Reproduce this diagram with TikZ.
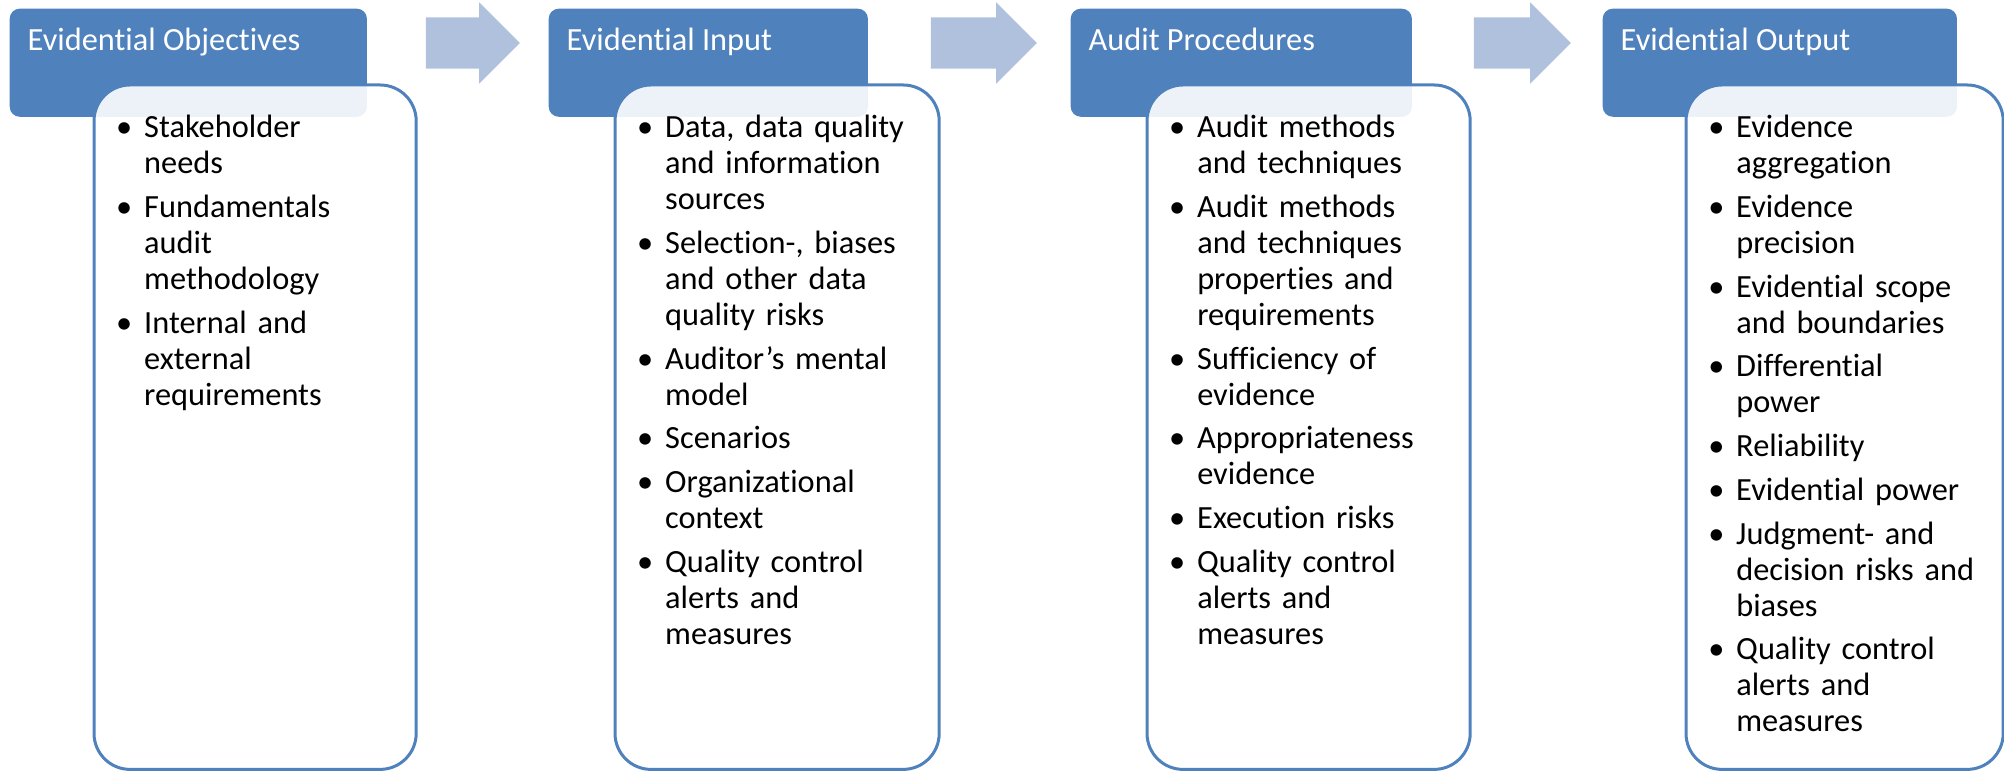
\documentclass[tikz,border=0pt]{standalone}
\usepackage{fontspec}
\setmainfont{Carlito}[Ligatures=CommonOff]
\usepackage{tikz}
\usetikzlibrary{shapes,arrows}
\usetikzlibrary{positioning}
\definecolor{headblue}{RGB}{79,129,189}
\definecolor{arrowblue}{RGB}{176,193,221}
\tikzstyle{every node}=[font=\fontsize{9.2pt}{10.24pt}\selectfont]
\tikzstyle{head}=[fill=headblue,rounded corners=0.1cm,anchor=north west,inner sep=0pt,minimum height=1.08cm]
\tikzstyle{body}=[draw=headblue,line width=0.03cm,fill=white,fill opacity=0.9,rounded corners=0.36cm,anchor=north west,inner sep=0pt,minimum height=6.84cm]
\tikzstyle{flow}=[single arrow,fill=arrowblue,text height=0.5cm,text depth=0pt,minimum width=0.8cm,single arrow head extend=0.15cm,inner sep=0pt]
\tikzstyle{title}=[anchor=base west,text=white,inner sep=0pt,xshift=0.18cm,yshift=-0.42cm]
\tikzstyle{list}=[anchor=north west,text width=2.9cm,align=left,inner sep=0pt,xshift=0.30cm,yshift=-0.31cm]
\newcommand{\bitem}[1]{\hangindent=0.21cm\hangafter=1\noindent\makebox[0.21cm][l]{\kern-0.07cm\textbullet}#1\par\vspace{2.2pt}}

\begin{document}
\begin{tikzpicture}[x=0.01cm,y=-0.01cm]
\useasboundingbox (0,0) rectangle (2004,771);

\node[flow,minimum height=0.94cm] (a1) at (460,43) {};
\node[flow,minimum height=1.06cm] (a2) at (971,43) {};
\node[flow,minimum height=0.97cm] (a3) at (1509.5,43) {};

\node[head,minimum width=3.57cm] (h1) at (9,8) {};
\node[head,minimum width=3.19cm] (h2) at (548,8) {};
\node[head,minimum width=3.41cm] (h3) at (1070,8) {};
\node[head,minimum width=3.54cm] (h4) at (1602,8) {};
\node[title] (t1) at (h1.north west) {Evidential Objectives};
\node[title] (t2) at (h2.north west) {Evidential Input};
\node[title] (t3) at (h3.north west) {Audit Procedures};
\node[title] (t4) at (h4.north west) {Evidential Output};

\node[body,minimum width=3.22cm] (b1) at (92.5,83.5) {};
\node[body,minimum width=3.24cm] (b2) at (613.5,83.5) {};
\node[body,minimum width=3.23cm] (b3) at (1145.5,83.5) {};
\node[body,minimum width=3.17cm] (b4) at (1684.5,83.5) {};

\node[list] (l1) at (b1.north west) {%
\bitem{Stakeholder\newline needs}
\bitem{Fundamentals\newline audit\newline methodology}
\bitem{Internal and\newline external\newline requirements}};
\node[list] (l2) at (b2.north west) {%
\bitem{Data, data quality\newline and information\newline sources}
\bitem{Selection-, biases\newline and other data\newline quality risks}
\bitem{Auditor’s mental\newline model}
\bitem{Scenarios}
\bitem{Organizational\newline context}
\bitem{Quality control\newline alerts and\newline measures}};
\node[list] (l3) at (b3.north west) {%
\bitem{Audit methods\newline and techniques}
\bitem{Audit methods\newline and techniques\newline properties and\newline requirements}
\bitem{Sufficiency of\newline evidence}
\bitem{Appropriateness\newline evidence}
\bitem{Execution risks}
\bitem{Quality control\newline alerts and\newline measures}};
\node[list] (l4) at (b4.north west) {%
\bitem{Evidence\newline aggregation}
\bitem{Evidence\newline precision}
\bitem{Evidential scope\newline and boundaries}
\bitem{Differential\newline power}
\bitem{Reliability}
\bitem{Evidential power}
\bitem{Judgment- and\newline decision risks and\newline biases}
\bitem{Quality control\newline alerts and\newline measures}};
\end{tikzpicture}
\end{document}
